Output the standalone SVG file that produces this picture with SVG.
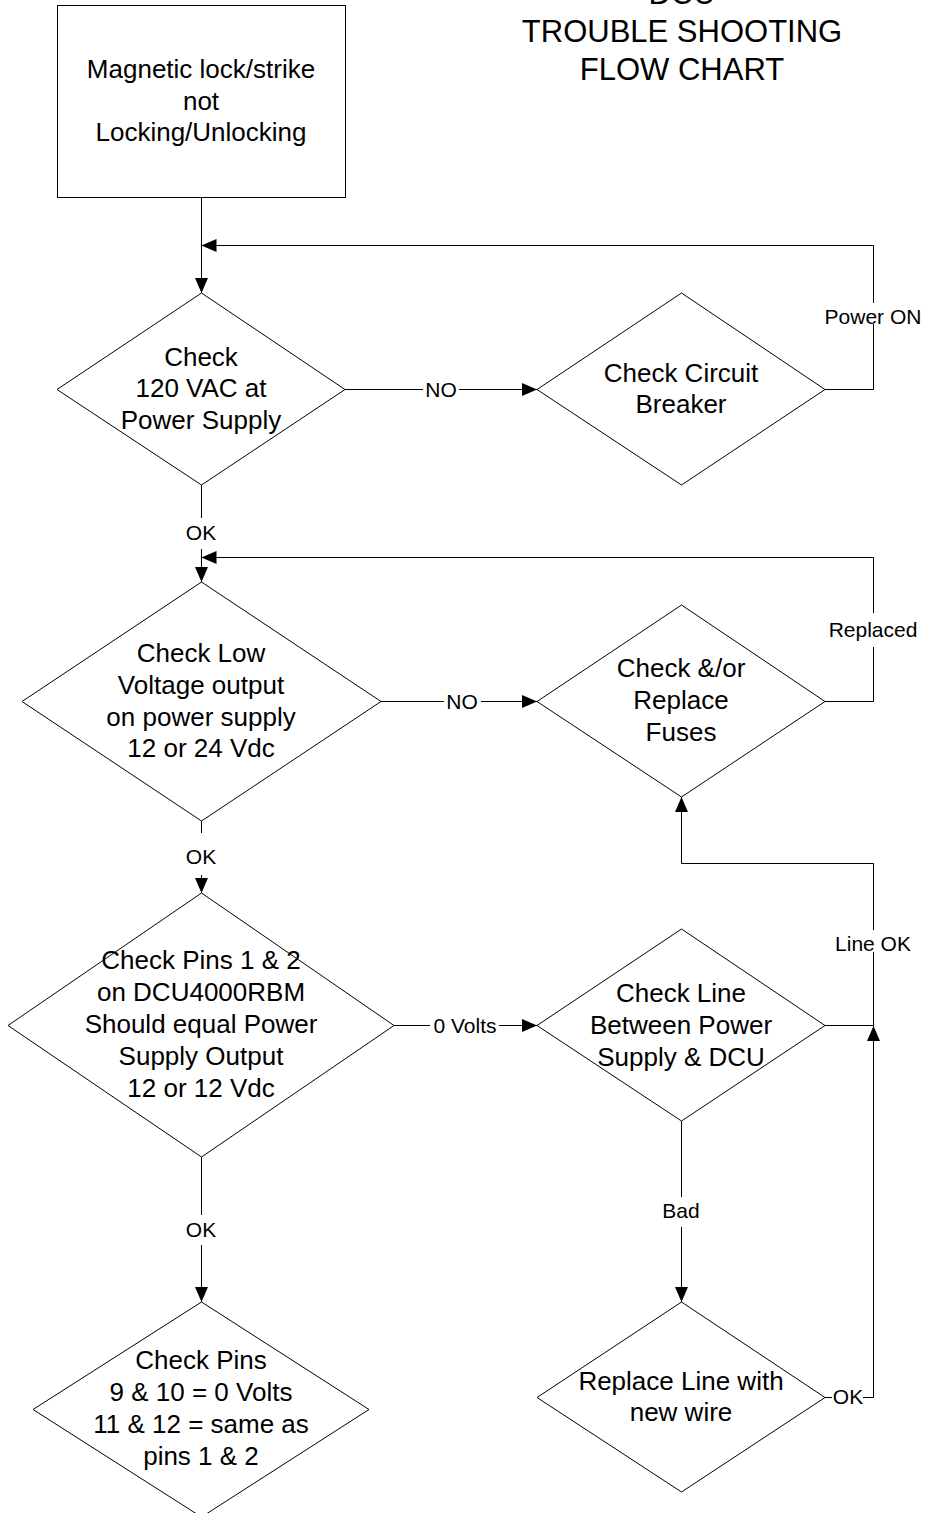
<svg xmlns="http://www.w3.org/2000/svg" width="925" height="1513" viewBox="0 0 925 1513">
<style>
  .shape { fill: #ffffff; stroke: #000000; stroke-width: 1; }
  .conn { fill: none; stroke: #000000; stroke-width: 1; }
  .node { font-family: "Liberation Sans", Arial, sans-serif; font-size: 26px; fill: #000000; text-anchor: middle; }
  .title { font-family: "Liberation Sans", Arial, sans-serif; font-size: 31px; fill: #000000; text-anchor: middle; }
  .lbl { font-family: "Liberation Sans", Arial, sans-serif; font-size: 21px; fill: #000000; text-anchor: middle; }
  .lblbg { fill: #ffffff; stroke: none; }
</style>
<defs>
  <marker id="arrow" markerUnits="userSpaceOnUse" markerWidth="15" markerHeight="13" refX="15" refY="6.5" orient="auto" viewBox="0 0 15 13">
    <path d="M0,0 L15,6.5 L0,13 z" fill="#000000"/>
  </marker>
</defs>
<rect width="925" height="1513" fill="#ffffff"/>

<g id="title">
  <text class="title" x="682" y="4">DCU</text>
  <text class="title" x="682" y="42">TROUBLE SHOOTING</text>
  <text class="title" x="682" y="80">FLOW CHART</text>
</g>

<g id="connectors">
  <path class="conn" d="M201.5,197 V293" marker-end="url(#arrow)"/>
  <path class="conn" d="M345,389.5 H537" marker-end="url(#arrow)"/>
  <path class="conn" d="M825,389.5 H873.5 V245.5 H201.5" marker-end="url(#arrow)"/>
  <path class="conn" d="M201.5,485 V582" marker-end="url(#arrow)"/>
  <path class="conn" d="M381,701.5 H537" marker-end="url(#arrow)"/>
  <path class="conn" d="M825,701.5 H873.5 V557.5 H201.5" marker-end="url(#arrow)"/>
  <path class="conn" d="M201.5,821 V893" marker-end="url(#arrow)"/>
  <path class="conn" d="M394,1025.5 H537" marker-end="url(#arrow)"/>
  <path class="conn" d="M825,1025.5 H873.5 V863.5 H681.5 V797" marker-end="url(#arrow)"/>
  <path class="conn" d="M681.5,1121 V1302" marker-end="url(#arrow)"/>
  <path class="conn" d="M825,1397.5 H873.5 V1026" marker-end="url(#arrow)"/>
  <path class="conn" d="M201.5,1157 V1302" marker-end="url(#arrow)"/>
</g>

<g id="connector-labels">
  <rect class="lblbg" x="423" y="378" width="36" height="24"/>
  <text class="lbl" x="441" y="397">NO</text>
  <rect class="lblbg" x="823" y="303" width="101" height="21"/>
  <text class="lbl" x="873" y="324">Power ON</text>
  <rect class="lblbg" x="184" y="518" width="35" height="31"/>
  <text class="lbl" x="201" y="540">OK</text>
  <rect class="lblbg" x="444" y="690" width="37" height="24"/>
  <text class="lbl" x="462" y="709">NO</text>
  <rect class="lblbg" x="827" y="613" width="93" height="34"/>
  <text class="lbl" x="873" y="637">Replaced</text>
  <rect class="lblbg" x="184" y="833" width="35" height="42"/>
  <text class="lbl" x="201" y="864">OK</text>
  <rect class="lblbg" x="430" y="1014" width="69" height="24"/>
  <text class="lbl" x="465" y="1033">0 Volts</text>
  <rect class="lblbg" x="834" y="930" width="79" height="22"/>
  <text class="lbl" x="873" y="951">Line OK</text>
  <rect class="lblbg" x="661" y="1197" width="41" height="30"/>
  <text class="lbl" x="681" y="1218">Bad</text>
  <rect class="lblbg" x="184" y="1215" width="35" height="30"/>
  <text class="lbl" x="201" y="1237">OK</text>
  <rect class="lblbg" x="832" y="1386" width="31" height="24"/>
  <text class="lbl" x="848" y="1404">OK</text>
</g>

<g id="start">
  <rect class="shape" x="57.5" y="5.5" width="288" height="192"/>
  <text class="node" x="201" y="78">Magnetic lock/strike</text>
  <text class="node" x="201" y="110">not</text>
  <text class="node" x="201" y="141">Locking/Unlocking</text>
</g>

<g id="check-120vac">
  <polygon class="shape" points="201.5,293 345,389.5 201.5,485 57,389.5"/>
  <text class="node" x="201" y="366">Check</text>
  <text class="node" x="201" y="397">120 VAC at</text>
  <text class="node" x="201" y="429">Power Supply</text>
</g>

<g id="check-circuit-breaker">
  <polygon class="shape" points="681.5,293 825,389.5 681.5,485 537,389.5"/>
  <text class="node" x="681" y="382">Check Circuit</text>
  <text class="node" x="681" y="413">Breaker</text>
</g>

<g id="check-low-voltage">
  <polygon class="shape" points="201.5,582 381,701.5 201.5,821 22,701.5"/>
  <text class="node" x="201" y="662">Check Low</text>
  <text class="node" x="201" y="694">Voltage output</text>
  <text class="node" x="201" y="726">on power supply</text>
  <text class="node" x="201" y="757">12 or 24 Vdc</text>
</g>

<g id="check-fuses">
  <polygon class="shape" points="681.5,605 825,701.5 681.5,797 537,701.5"/>
  <text class="node" x="681" y="677">Check &amp;/or</text>
  <text class="node" x="681" y="709">Replace</text>
  <text class="node" x="681" y="741">Fuses</text>
</g>

<g id="check-pins-1-2">
  <polygon class="shape" points="201.5,893 394,1025.5 201.5,1157 8,1025.5"/>
  <text class="node" x="201" y="969">Check Pins 1 &amp; 2</text>
  <text class="node" x="201" y="1001">on DCU4000RBM</text>
  <text class="node" x="201" y="1033">Should equal Power</text>
  <text class="node" x="201" y="1065">Supply Output</text>
  <text class="node" x="201" y="1097">12 or 12 Vdc</text>
</g>

<g id="check-line">
  <polygon class="shape" points="681.5,929 825,1025.5 681.5,1121 537,1025.5"/>
  <text class="node" x="681" y="1002">Check Line</text>
  <text class="node" x="681" y="1034">Between Power</text>
  <text class="node" x="681" y="1066">Supply &amp; DCU</text>
</g>

<g id="replace-line">
  <polygon class="shape" points="681.5,1302 825,1397.5 681.5,1492 537,1397.5"/>
  <text class="node" x="681" y="1390">Replace Line with</text>
  <text class="node" x="681" y="1421">new wire</text>
</g>

<g id="check-pins-9-12">
  <polygon class="shape" points="201.5,1302 369,1409.5 201.5,1517 33,1409.5"/>
  <text class="node" x="201" y="1369">Check Pins</text>
  <text class="node" x="201" y="1401">9 &amp; 10 = 0 Volts</text>
  <text class="node" x="201" y="1433">11 &amp; 12 = same as</text>
  <text class="node" x="201" y="1465">pins 1 &amp; 2</text>
</g>
</svg>
